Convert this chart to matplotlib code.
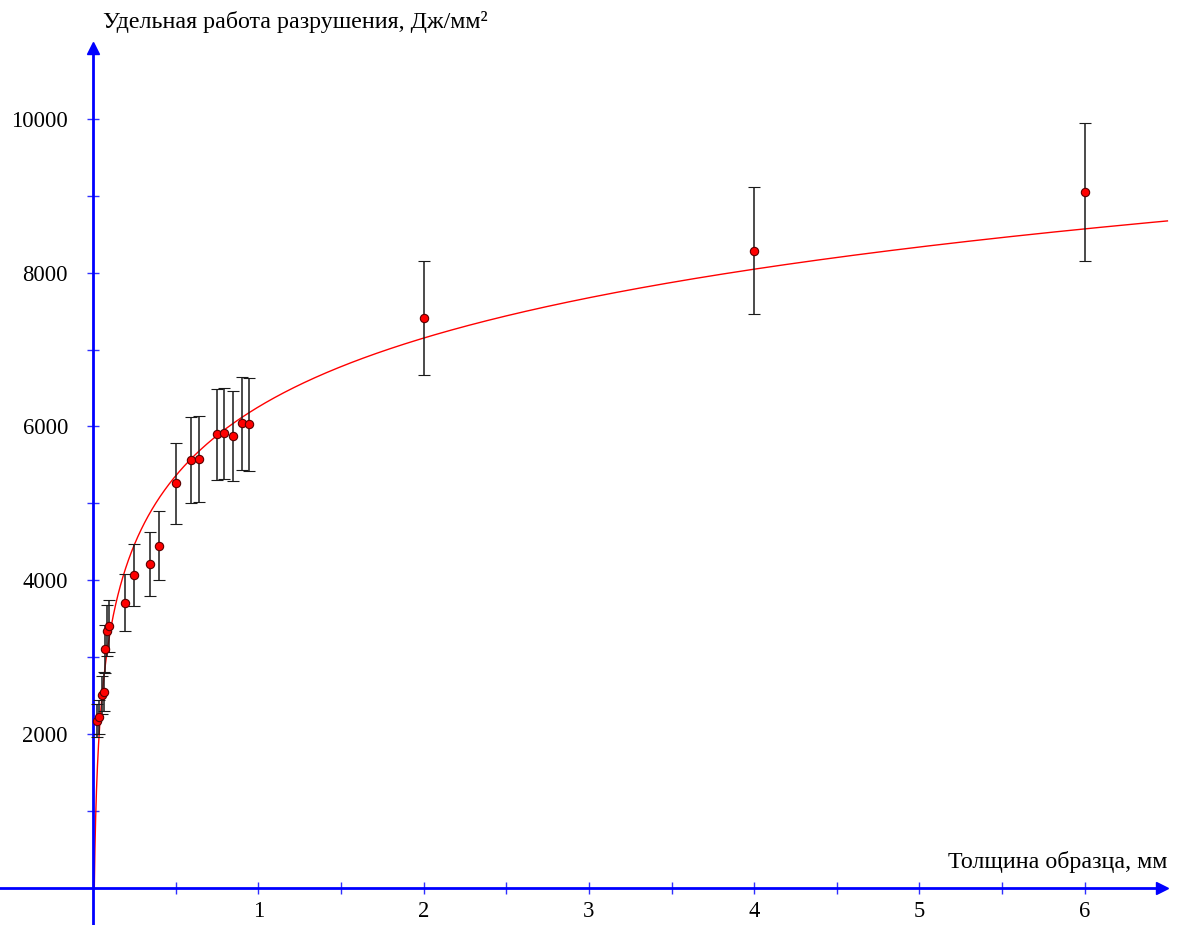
import numpy as np
import matplotlib.pyplot as plt

# толщина образца, мм
tolshchina = [0.026, 0.034, 0.054, 0.065, 0.073, 0.087, 0.094, 0.195, 0.248, 0.345, 0.397,
              0.5, 0.59, 0.643, 0.748, 0.795, 0.845, 0.9, 0.944, 2, 4, 6]
# удельная работа разрушения, Дж/мм2
rabota = [2173, 2217, 2507, 2550, 3106, 3344, 3405, 3708, 4072, 4211, 4450,
          5261, 5564, 5577, 5898, 5915, 5872, 6041, 6028, 7411, 8283, 9050]
pogreshnost = [217, 222, 251, 255, 311, 334, 340, 370, 405, 420, 445,
               525, 555, 558, 590, 592, 587, 604, 603, 741, 826, 900]

# логарифмическая аппроксимация y = A + B*ln(x)
A = 6254
B = 1293

plt.rcParams['font.family'] = ['Liberation Serif', 'DejaVu Serif']
BLUE = '#0000ff'

fig = plt.figure(figsize=(11.77, 9.25), dpi=100)
ax = fig.add_axes([0, 0, 1, 1])
ax.set_xlim(-0.5626, 6.558)
ax.set_ylim(-484.6, 11548)

# кривая
xf = np.geomspace(np.exp(-A / B), 6.5, 2000)
ax.plot(xf, A + B * np.log(xf), color='red', lw=1)

# точки с погрешностями
ax.errorbar(tolshchina, rabota, yerr=pogreshnost, fmt='o', color='black',
            ecolor='#1a1a1a', elinewidth=1.1, capsize=4.5, capthick=1.1,
            markersize=6, markerfacecolor='red', markeredgecolor='#5a0000',
            markeredgewidth=0.8, zorder=3)

# оси
for s in ['top', 'right']:
    ax.spines[s].set_visible(False)
ax.spines['left'].set_position(('data', 0))
ax.spines['bottom'].set_position(('data', 0))
ax.spines['left'].set_bounds(-484.6, 10900)
ax.spines['bottom'].set_bounds(-0.5626, 6.45)
for s in ['left', 'bottom']:
    ax.spines[s].set_color(BLUE)
    ax.spines[s].set_linewidth(2)
ax.plot(6.47, 0, '>', color=BLUE, markersize=8, clip_on=False)
ax.plot(0, 10930, '^', color=BLUE, markersize=8, clip_on=False)

ax.set_xticks([1, 2, 3, 4, 5, 6])
ax.set_xticks([0.5, 1.5, 2.5, 3.5, 4.5, 5.5], minor=True)
ax.set_yticks([2000, 4000, 6000, 8000, 10000])
ax.set_yticks([1000, 3000, 5000, 7000, 9000], minor=True)
ax.tick_params(which='both', direction='inout', length=9, width=1, color='#3030ff',
               labelsize=16.3)
ax.tick_params(axis='y', which='major', pad=13.5)
ax.tick_params(axis='x', which='major', pad=5)

fig.text(103 / 1177, 1 - 28 / 925, 'Удельная работа разрушения, Дж/мм²',
         fontsize=17.3, ha='left', va='baseline')
fig.text(1167 / 1177, 57 / 925, 'Толщина образца, мм',
         fontsize=17.3, ha='right', va='baseline')

fig.savefig('out.png', dpi=100)
